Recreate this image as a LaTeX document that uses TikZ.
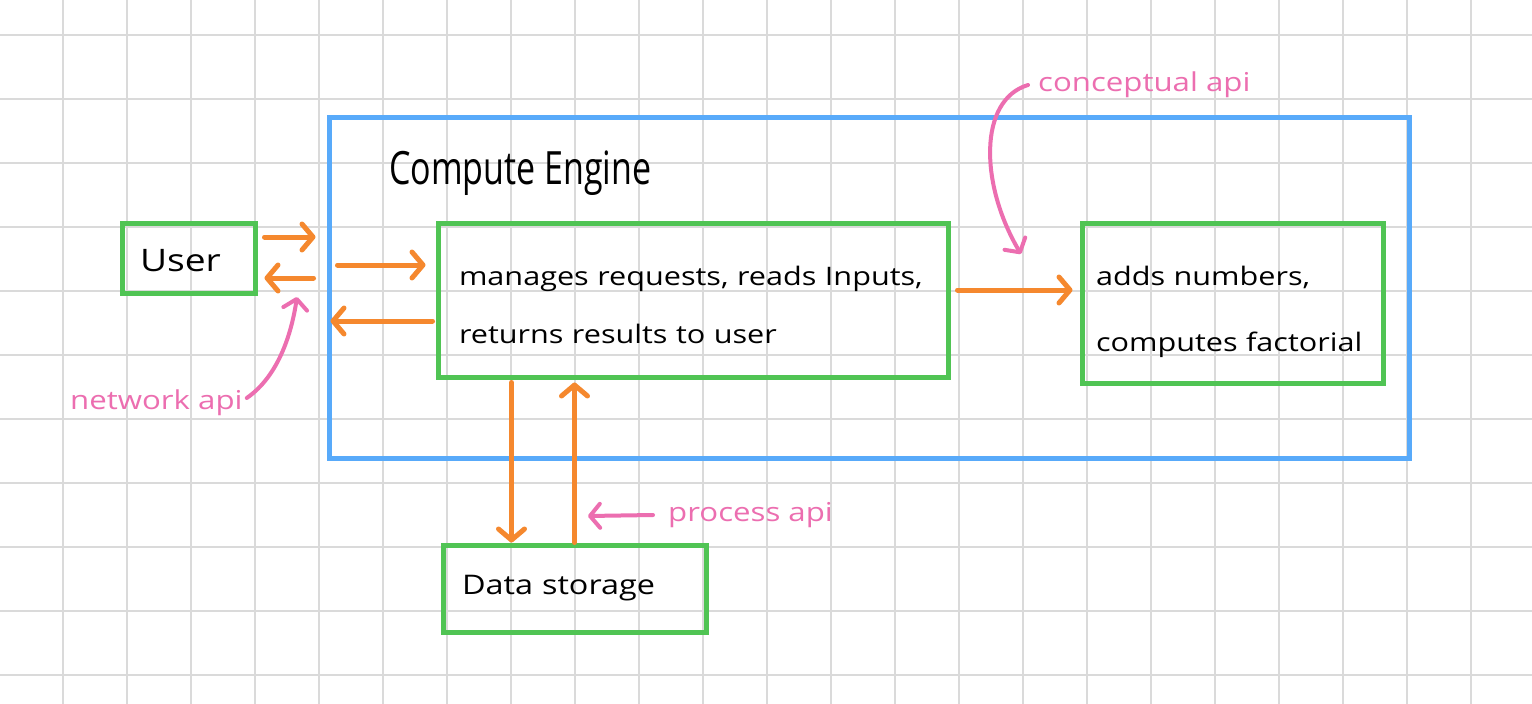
\documentclass[tikz,border=0pt]{standalone}
\usepackage{fontspec}
\setmainfont{Open Sans}
\newfontfamily\hand{Open Sans}[FakeStretch=1.2]
\usetikzlibrary{arrows.meta,calc}
\definecolor{gridc}{RGB}{218,218,218}
\definecolor{boxgreen}{RGB}{80,196,84}
\definecolor{engblue}{RGB}{88,170,250}
\definecolor{arrorange}{RGB}{245,136,46}
\definecolor{notepink}{RGB}{236,110,176}
\newcommand{\lowertext}[2]{\raisebox{-#1}[\height][\depth]{#2}}
\begin{document}
\begin{tikzpicture}[x=1pt,y=-1pt,
  compbox/.style={draw=boxgreen, line width=5pt, rectangle, inner sep=0pt, align=left},
  flow/.style={draw=arrorange, line width=5pt, line cap=round, -{Straight Barb[length=11pt,width=26pt,round]}},
  note/.style={text=notepink, font=\hand\fontsize{26}{30}\selectfont, inner sep=0pt, anchor=west},
  notearrow/.style={draw=notepink, line width=4pt, line cap=round, -{Straight Barb[length=10pt,width=24pt,round]}}]
\useasboundingbox (0,0) rectangle (1532,704);
\fill[white] (0,0) rectangle (1532,704);
% grid
\foreach \k in {0,...,22} {\draw[gridc, line width=2pt] (63+64*\k,0) -- (63+64*\k,704);}
\foreach \k in {0,...,10} {\draw[gridc, line width=2pt] (0,35+64*\k) -- (1532,35+64*\k);}
% engine
\node[draw=engblue, line width=5pt, rectangle, minimum width=1080pt, minimum height=341pt, inner sep=0pt] (engine) at (869,287.5) {};
\node[anchor=base west, inner sep=0pt, font=\fontsize{34}{40}\selectfont] (englbl) at (389,184) {\scalebox{1}[1.35]{Compute Engine}};
% boxes
\node[compbox, minimum width=133pt, minimum height=70pt, text width=97pt, font=\hand\fontsize{31}{36}\selectfont] (user) at (188.5,258) {\lowertext{3pt}{User}};
\node[compbox, minimum width=510pt, minimum height=154pt, text width=468pt, font=\hand\fontsize{25.5}{58}\selectfont] (main) at (693,300) {\lowertext{5pt}{manages requests, reads Inputs,}\\\lowertext{5pt}{returns results to user}};
\node[compbox, minimum width=301pt, minimum height=160pt, text width=273pt, font=\hand\fontsize{25.5}{66}\selectfont] (calc) at (1232.5,303) {\lowertext{9pt}{adds numbers,}\\\lowertext{9pt}{computes factorial}};
\node[compbox, minimum width=263pt, minimum height=87pt, text width=225pt, font=\hand\fontsize{27}{32}\selectfont] (ds) at (574.5,588.5) {Data storage};
% flows
\draw[flow, shorten <=7pt, shorten >=11pt] ([yshift=21pt]user.east) -- ([yshift=21pt]user.east -| engine.west);
\draw[flow, shorten <=13pt, shorten >=7pt] ([yshift=-20pt]user.east -| engine.west) -- ([yshift=-20pt]user.east);
\draw[flow, shorten <=11pt, shorten >=10pt] ([yshift=35pt]main.west -| engine.west) -- ([yshift=35pt]main.west);
\draw[flow, shorten <=3pt, shorten >=4pt] ([yshift=-21pt]main.west) -- ([yshift=-21pt]main.west -| engine.west);
\draw[flow, shorten <=7pt, shorten >=7pt] ([yshift=10pt]main.east) -- ([yshift=10pt]main.east -| calc.west);
\draw[flow, shorten <=3pt] ([xshift=-63pt]ds.north |- main.south) -- ([xshift=-63pt]ds.north);
\draw[flow, shorten >=3pt] (ds.north) -- (ds.north |- main.south);
% notes
\node[note] (netlbl) at (70,403) {network api};
\coordinate (netTip) at (297,297);
\draw[notearrow] ([xshift=4pt,yshift=5pt]netlbl.east) .. controls (280,375) and (292,330) .. (netTip);
\node[note] (conclbl) at (1038,85) {conceptual api};
\coordinate (concTip) at (1021,254);
\draw[notearrow] ([xshift=-10pt]conclbl.west) .. controls (978,100) and (980,185) .. (concTip);
\node[note] (proclbl) at (668,515) {process api};
\coordinate (procTip) at (588,516);
\draw[notearrow] ([xshift=-15pt]proclbl.west) -- (procTip);
\end{tikzpicture}
\end{document}
